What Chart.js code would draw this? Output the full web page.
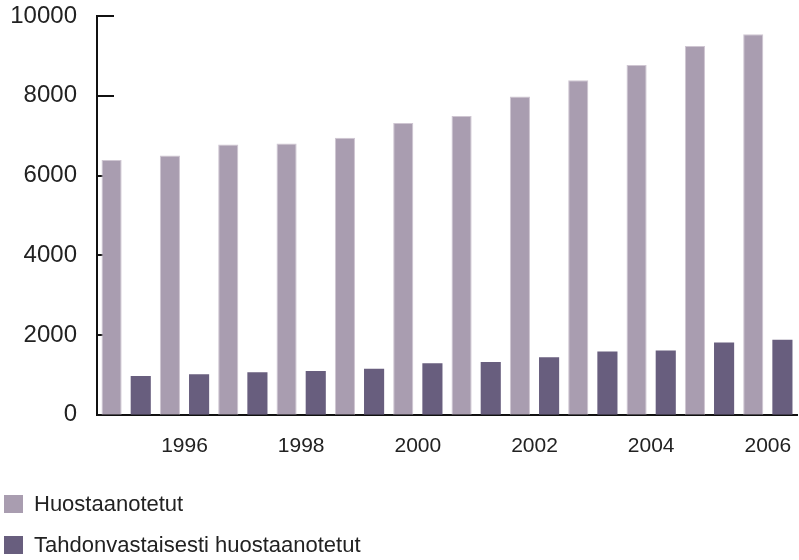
<!DOCTYPE html>
<html>
<head>
<meta charset="utf-8">
<script src="https://cdn.jsdelivr.net/npm/chart.js@4/dist/chart.umd.min.js"></script>
<style>
  html, body { margin: 0; padding: 0; background: #fff; }
  #wrap { position: relative; width: 799px; height: 560px; }
  #legend { position: absolute; left: 4px; top: 493px; font-family: "Liberation Sans", Arial, sans-serif; font-size: 22px; color: #222; }
  .leg-item { display: flex; align-items: center; height: 22px; margin-bottom: 19px; }
  .leg-box { width: 19px; height: 18px; margin-right: 11px; }
</style>
</head>
<body>
<div id="wrap">
  <canvas id="chart" width="799" height="560"></canvas>
  <div id="legend"></div>
</div>
<script>
const years = ['1995', '1996', '1997', '1998', '1999', '2000', '2001', '2002', '2003', '2004', '2005', '2006'];
const huostaanotetut = [6390, 6505, 6780, 6805, 6950, 7315, 7495, 7980, 8390, 8770, 9245, 9540];
const tahdonvastaisesti = [975, 1015, 1065, 1100, 1155, 1290, 1325, 1445, 1585, 1610, 1810, 1880];
const seriesNames = ['Huostaanotetut', 'Tahdonvastaisesti huostaanotetut'];
const yTicks = [0, 2000, 4000, 6000, 8000, 10000];

const lightColor = '#a99db0';
const darkColor = '#685e7e';

// tick marks drawn inside the plot, under the bars
const innerTicks = {
    id: 'innerTicks',
    beforeDatasetsDraw(chart) {
        const ctx = chart.ctx;
        const y = chart.scales.y;
        const left = chart.chartArea.left;
        ctx.save();
        ctx.strokeStyle = '#111';
        ctx.lineWidth = 2;
        y.ticks.forEach(t => {
            const py = Math.round(y.getPixelForValue(t.value));
            ctx.beginPath();
            ctx.moveTo(left, py);
            ctx.lineTo(left + 17, py);
            ctx.stroke();
        });
        ctx.restore();
    }
};

const ctx = document.getElementById('chart').getContext('2d');
const chart = new Chart(ctx, {
    type: 'bar',
    data: {
        labels: years,
        datasets: [{
            label: seriesNames[0],
            data: huostaanotetut,
            backgroundColor: lightColor,
            borderColor: '#cfc6d2',
            borderWidth: 1
        }, {
            label: seriesNames[1],
            data: tahdonvastaisesti,
            backgroundColor: darkColor,
            borderWidth: 0
        }]
    },
    options: {
        responsive: false,
        animation: false,
        layout: { padding: { left: 8, right: 2, top: 0, bottom: 99 } },
        datasets: {
            bar: { categoryPercentage: 1.0, barPercentage: 0.69 }
        },
        plugins: {
            legend: { display: false },
            tooltip: { enabled: false }
        },
        scales: {
            x: {
                grid: { display: true, drawOnChartArea: false, drawTicks: true, tickLength: 17, tickColor: 'rgba(0,0,0,0)' },
                border: { display: true, color: '#111', width: 2 },
                ticks: {
                    autoSkip: false,
                    maxRotation: 0,
                    padding: 2,
                    color: '#222',
                    font: { family: '"Liberation Sans", Arial, sans-serif', size: 21 },
                    callback: function(value, index) {
                        const year = parseInt(years[index]);
                        return year % 2 === 0 ? years[index] : '';
                    }
                }
            },
            y: {
                min: 0,
                max: 10000,
                afterBuildTicks: function(scale) {
                    scale.ticks = yTicks.map(v => ({ value: v }));
                },
                afterFit: function(scale) {
                    scale.width = 89;
                    scale.paddingTop = 16;
                },
                grid: { display: false, drawTicks: false },
                border: { display: true, color: '#111', width: 2 },
                ticks: {
                    padding: 20,
                    color: '#222',
                    font: { family: '"Liberation Sans", Arial, sans-serif', size: 24 },
                    callback: function(value) {
                        return String(value);
                    }
                }
            }
        }
    },
    plugins: [innerTicks]
});

// legend built from the chart's datasets, stacked vertically
const legendDiv = document.getElementById('legend');
chart.data.datasets.forEach(ds => {
    const item = document.createElement('div');
    item.className = 'leg-item';
    const box = document.createElement('span');
    box.className = 'leg-box';
    box.style.background = ds.backgroundColor;
    const text = document.createElement('span');
    text.textContent = ds.label;
    item.appendChild(box);
    item.appendChild(text);
    legendDiv.appendChild(item);
});
</script>
</body>
</html>
